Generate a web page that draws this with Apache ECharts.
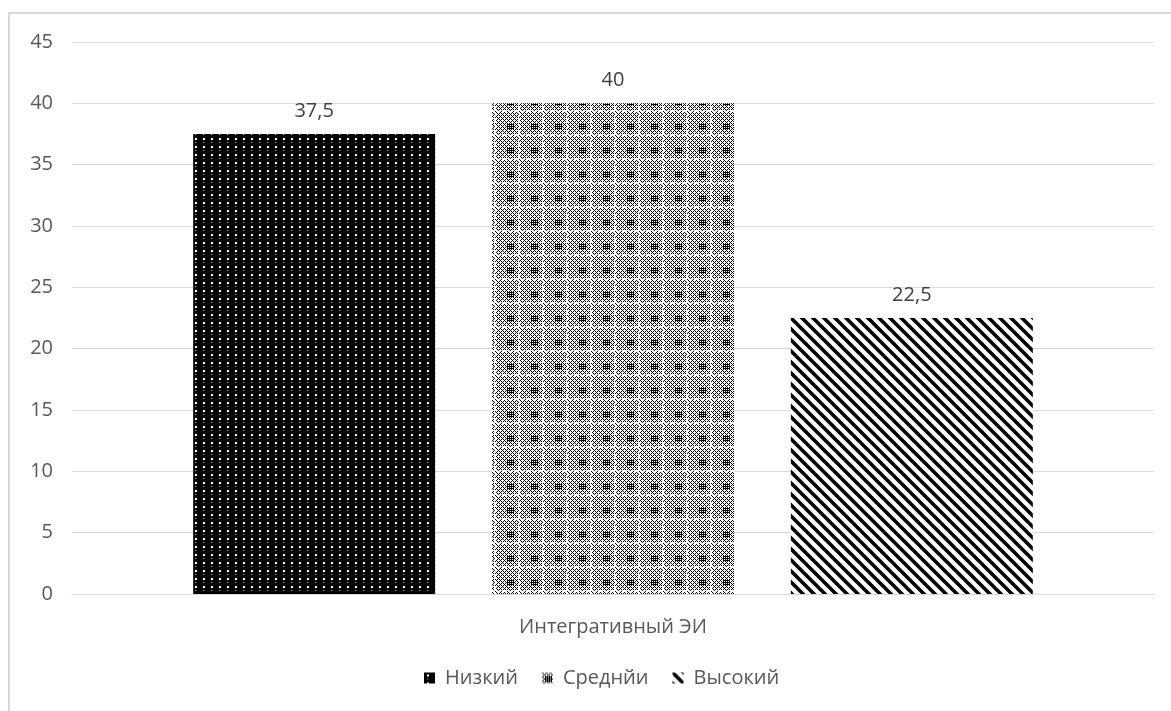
<!DOCTYPE html>
<html>
<head>
<meta charset="utf-8">
<script src="https://cdn.jsdelivr.net/npm/echarts@6/dist/echarts.min.js"></script>
<style>
  html, body { margin: 0; padding: 0; background: #fff; overflow: hidden; }
  #frame { position: absolute; left: 8px; top: 12px; width: 1300px; height: 900px; border: 2px solid #d9d9d9; }
  #main { position: absolute; left: 0; top: 0; width: 1171px; height: 711px; }
</style>
</head>
<body>
<div id="frame"></div>
<div id="main"></div>
<script>
// данные
const categories = ['Интегративный ЭИ']
const seriesNames = ['Низкий', 'Среднйи', 'Высокий']
const seriesValues = [37.5, 40, 22.5]
const yTicks = { min: 0, max: 45, step: 5 }

// узоры заливки
function dotsPattern () {
  const c = document.createElement('canvas')
  c.width = 8; c.height = 8
  const g = c.getContext('2d')
  g.fillStyle = '#000'
  g.fillRect(0, 0, 8, 8)
  g.fillStyle = '#fff'
  g.fillRect(3, 2, 2, 2)
  g.fillStyle = '#aaa'
  g.fillRect(3, 6, 1, 1)
  return c
}
function crossPattern () {
  const s = 24
  const c = document.createElement('canvas')
  c.width = s; c.height = s
  const g = c.getContext('2d')
  g.fillStyle = '#fff'
  g.fillRect(0, 0, s, s)
  g.fillStyle = '#000'
  for (let x = 0; x < s; x++) {
    for (let y = 0; y < s; y++) {
      let dark = ((x + y) % 4 === 0) || (((x - y) % 4 + 4) % 4 === 0)
      // тёмный блок
      if (x >= 3 && x < 10 && y >= 3 && y < 10) dark = (x + y) % 2 === 0 || x % 2 === 1
      // светлые полосы
      if (y >= 14 && y < 16 && x % 3 !== 0) dark = false
      if (x >= 14 && x < 16 && y % 3 !== 0) dark = false
      if (dark) g.fillRect(x, y, 1, 1)
    }
  }
  return c
}
function stripePattern () {
  const s = 11
  const c = document.createElement('canvas')
  c.width = s; c.height = s
  const g = c.getContext('2d')
  g.fillStyle = '#fff'
  g.fillRect(0, 0, s, s)
  g.strokeStyle = '#000'
  g.lineWidth = 3.6
  g.beginPath()
  g.moveTo(-s, -s); g.lineTo(2 * s, 2 * s)
  g.moveTo(-s, 0); g.lineTo(s, 2 * s)
  g.moveTo(0, -s); g.lineTo(2 * s, s)
  g.stroke()
  return c
}
const patterns = [dotsPattern(), crossPattern(), stripePattern()]

const font = 'Open Sans'
const chart = echarts.init(document.getElementById('main'))
chart.setOption({
  animation: false,
  textStyle: { fontFamily: font },
  grid: { left: 72, right: 17, top: 42, bottom: 117, containLabel: false },
  legend: {
    left: 419,
    top: 663,
    itemWidth: 11,
    itemHeight: 11,
    itemGap: 24,
    icon: 'rect',
    textStyle: { fontFamily: font, fontSize: 20, color: '#595959', padding: [0, 0, 0, 5] },
    data: seriesNames
  },
  xAxis: {
    type: 'category',
    data: categories,
    axisLine: { lineStyle: { color: '#d9d9d9', width: 1 } },
    axisTick: { show: false },
    axisLabel: { fontFamily: font, fontSize: 20, color: '#595959', margin: 23 }
  },
  yAxis: {
    type: 'value',
    min: yTicks.min,
    max: yTicks.max,
    interval: yTicks.step,
    axisLine: { show: false },
    axisTick: { show: false },
    splitLine: { lineStyle: { color: '#d9d9d9', width: 1 } },
    axisLabel: { fontFamily: font, fontSize: 20, color: '#595959', margin: 19 }
  },
  series: seriesNames.map((name, i) => ({
    name: name,
    type: 'bar',
    data: [seriesValues[i]],
    barGap: '23.5%',
    barCategoryGap: '22.4%',
    itemStyle: { color: { image: patterns[i], repeat: 'repeat' } },
    label: {
      show: true,
      position: 'top',
      distance: 13,
      fontFamily: font,
      fontSize: 20,
      color: '#404040',
      formatter: p => String(p.value).replace('.', ',')
    }
  }))
})
</script>
</body>
</html>
